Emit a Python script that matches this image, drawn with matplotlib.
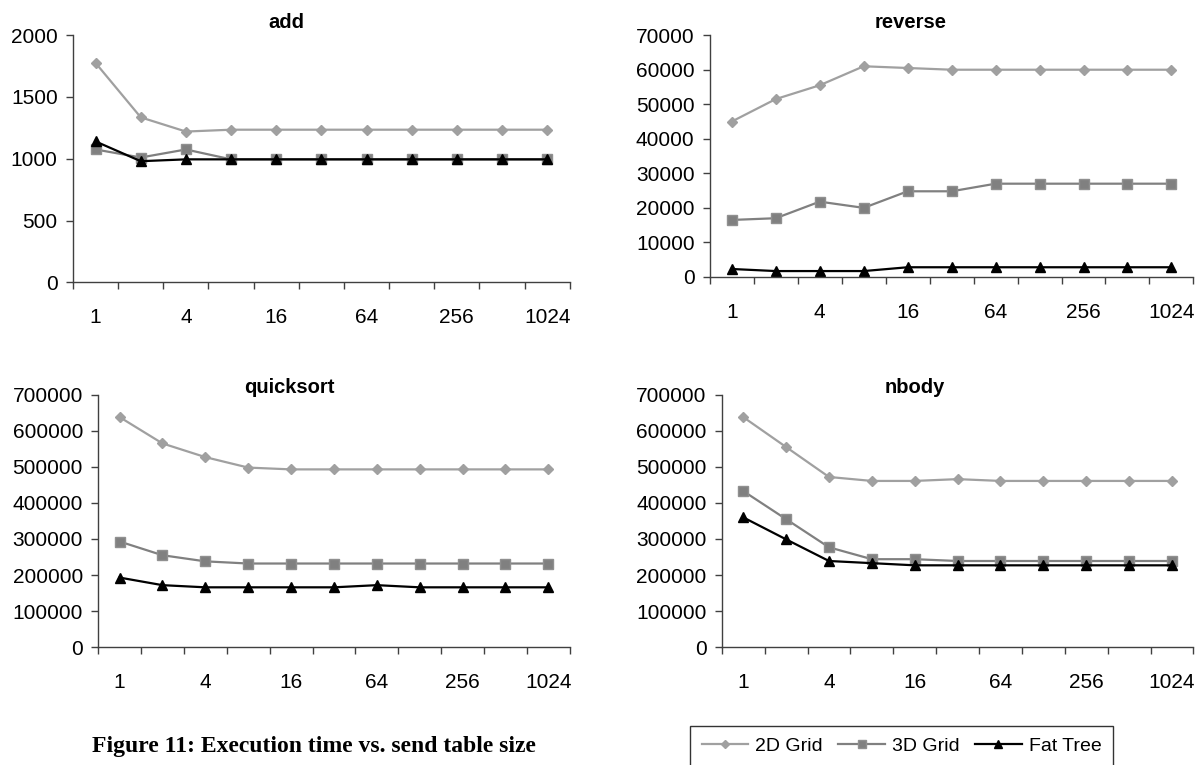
import numpy as np
import matplotlib
matplotlib.use('Agg')
import matplotlib.pyplot as plt

plt.rcParams['font.family'] = ['Liberation Sans', 'DejaVu Sans']

# send table sizes (categorical x axis)
sizes = ['1', '2', '4', '8', '16', '32', '64', '128', '256', '512', '1024']

add_2d = [1775, 1335, 1220, 1235, 1235, 1235, 1235, 1235, 1235, 1235, 1235]
add_3d = [1075, 1010, 1075, 995, 995, 995, 995, 995, 995, 995, 995]
add_fat = [1140, 980, 995, 995, 995, 995, 995, 995, 995, 995, 995]

rev_2d = [45000, 51500, 55500, 61000, 60500, 60000, 60000, 60000, 60000, 60000, 60000]
rev_3d = [16500, 17000, 21800, 20000, 24800, 24800, 27000, 27000, 27000, 27000, 27000]
rev_fat = [2300, 1700, 1700, 1700, 2800, 2800, 2800, 2800, 2800, 2800, 2800]

qs_2d = [638000, 565000, 527000, 498000, 493000, 493000, 493000, 493000, 493000, 493000, 493000]
qs_3d = [293000, 255000, 238000, 232000, 232000, 232000, 232000, 232000, 232000, 232000, 232000]
qs_fat = [193000, 172000, 166000, 166000, 166000, 166000, 172000, 166000, 166000, 166000, 166000]

nb_2d = [638000, 555000, 472000, 461000, 461000, 466000, 461000, 461000, 461000, 461000, 461000]
nb_3d = [433000, 355000, 277000, 244000, 244000, 239000, 239000, 239000, 239000, 239000, 239000]
nb_fat = [360000, 299000, 239000, 233000, 227000, 227000, 227000, 227000, 227000, 227000, 227000]

series_names = ['2D Grid', '3D Grid', 'Fat Tree']

fig = plt.figure(figsize=(11.97, 7.65), dpi=100)

panels = [
    # title, data, ymax, ystep, axes rect, title position
    ('add', (add_2d, add_3d, add_fat), 2000, 500, [0.061, 0.631, 0.415, 0.323], (0.239, 0.971)),
    ('reverse', (rev_2d, rev_3d, rev_fat), 70000, 10000, [0.593, 0.638, 0.404, 0.316], (0.761, 0.971)),
    ('quicksort', (qs_2d, qs_3d, qs_fat), 700000, 100000, [0.082, 0.154, 0.394, 0.330], (0.2415, 0.494)),
    ('nbody', (nb_2d, nb_3d, nb_fat), 700000, 100000, [0.603, 0.154, 0.394, 0.330], (0.764, 0.494)),
]

styles = [
    dict(color='#a0a0a0', marker='D', markersize=5.5, mfc='#a0a0a0', mec='#a0a0a0'),
    dict(color='#808080', marker='s', markersize=7, mfc='#808080', mec='#909090'),
    dict(color='black', marker='^', markersize=7.5, mfc='black', mec='black'),
]

x = np.arange(len(sizes))
handles = None
for title, data, ymax, ystep, rect, tpos in panels:
    ax = fig.add_axes(rect)
    lines = []
    for vals, st, name in zip(data, styles, series_names):
        ln, = ax.plot(x, vals, linewidth=1.6, label=name, **st)
        lines.append(ln)
    handles = lines
    ax.set_xlim(-0.5, len(sizes) - 0.5)
    ax.set_ylim(0, ymax)
    ax.set_yticks(np.arange(0, ymax + 1, ystep))
    ax.set_xticks(x[::2])
    ax.set_xticklabels(sizes[::2])
    ax.set_xticks(np.arange(-0.5, len(sizes), 1), minor=True)
    ax.tick_params(axis='x', which='major', length=0, pad=18.5, labelsize=15)
    ax.tick_params(axis='x', which='minor', length=5, width=1, direction='out', color='#404040')
    ax.tick_params(axis='y', length=5, width=1, pad=6, labelsize=15, color='#404040')
    for s in ['top', 'right']:
        ax.spines[s].set_visible(False)
    for s in ['left', 'bottom']:
        ax.spines[s].set_color('#404040')
        ax.spines[s].set_linewidth(1)
    fig.text(tpos[0], tpos[1], title, ha='center', va='center', fontsize=14.5, fontweight='bold')

fig.text(0.077, 0.024, 'Figure 11: Execution time vs. send table size', ha='left', va='center',
         fontsize=17, fontweight='bold', family='Liberation Serif')

leg = fig.legend(handles, series_names, loc='upper left', bbox_to_anchor=(0.5764, 0.0, 0.3534, 0.051),
                 mode='expand', ncol=3, fontsize=14, frameon=True, fancybox=False,
                 handlelength=2.4, handletextpad=0.35, columnspacing=0.6, borderaxespad=0,
                 borderpad=0.6, markerscale=0.75)
leg.get_frame().set_edgecolor('black')
leg.get_frame().set_linewidth(1)

fig.savefig('out.png', dpi=100)
